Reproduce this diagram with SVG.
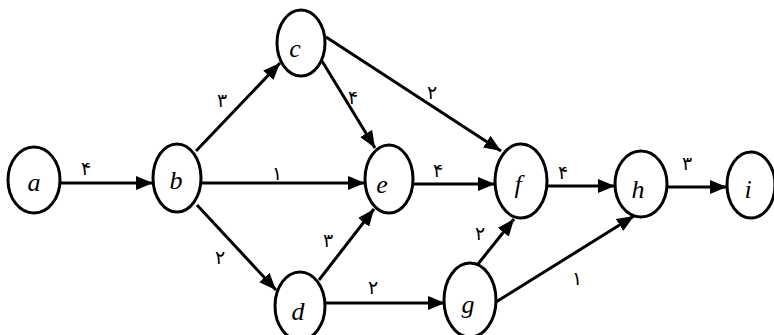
<svg xmlns="http://www.w3.org/2000/svg" width="774" height="335" viewBox="0 0 774 335">
<defs>
<marker id="arr" markerUnits="userSpaceOnUse" markerWidth="18" markerHeight="14" refX="17" refY="7" orient="auto">
<path d="M0,0 L17,7 L0,14 Z" fill="#000"/>
</marker>
<style>
.n ellipse{fill:#fff;stroke:#000;stroke-width:3}
.n text{font-family:"Liberation Serif",serif;font-style:italic;font-size:26px;text-anchor:middle;dominant-baseline:central;fill:#000}
#edges line{stroke:#000;stroke-width:3;marker-end:url(#arr)}
.w{font-family:"DejaVu Sans",sans-serif;font-size:19px;text-anchor:middle;dominant-baseline:central;fill:#000}
</style>
</defs>
<rect width="774" height="335" fill="#fff"/>
<g id="edges">
<line x1="60" y1="183" x2="153" y2="183"/>
<line x1="201" y1="183" x2="365" y2="183"/>
<line x1="413" y1="184" x2="495" y2="184"/>
<line x1="547" y1="186" x2="615" y2="186"/>
<line x1="667" y1="187" x2="727" y2="187"/>
<line x1="196" y1="151" x2="280" y2="63"/>
<line x1="322" y1="61" x2="375" y2="148"/>
<line x1="326" y1="37" x2="501" y2="151"/>
<line x1="197" y1="205" x2="276" y2="290"/>
<line x1="319" y1="280" x2="374" y2="209"/>
<line x1="325" y1="303" x2="445" y2="303"/>
<line x1="478" y1="264" x2="514" y2="219"/>
<line x1="496" y1="302" x2="634" y2="216"/>
<text class="w" x="86" y="168">۴</text>
<text class="w" x="222" y="100">۳</text>
<text class="w" x="277" y="173">۱</text>
<text class="w" x="353" y="97">۴</text>
<text class="w" x="432" y="92">۲</text>
<text class="w" x="438" y="170">۴</text>
<text class="w" x="563" y="172">۴</text>
<text class="w" x="687" y="163">۳</text>
<text class="w" x="480" y="233">۲</text>
<text class="w" x="577" y="278">۱</text>
<text class="w" x="220" y="257">۲</text>
<text class="w" x="328" y="240">۳</text>
<text class="w" x="373" y="287">۲</text>
</g>
<g id="a" class="n"><ellipse cx="34" cy="180" rx="26" ry="33"/><text x="34" y="182">a</text></g>
<g id="b" class="n"><ellipse cx="177" cy="178" rx="24" ry="34"/><text x="176" y="180">b</text></g>
<g id="c" class="n"><ellipse cx="301" cy="43" rx="24" ry="33"/><text x="295" y="48">c</text></g>
<g id="e" class="n"><ellipse cx="389" cy="179" rx="24" ry="34"/><text x="382" y="184">e</text></g>
<g id="f" class="n"><ellipse cx="521" cy="181" rx="26" ry="37"/><text x="518" y="184">f</text></g>
<g id="h" class="n"><ellipse cx="641" cy="184" rx="26" ry="33"/><text x="638" y="189">h</text></g>
<g id="i" class="n"><ellipse cx="751" cy="185" rx="24" ry="33"/><text x="748" y="189">i</text></g>
<g id="d" class="n"><ellipse cx="300" cy="306" rx="25" ry="34"/><text x="298" y="311">d</text></g>
<g id="g" class="n"><ellipse cx="470" cy="300" rx="26" ry="37"/><text x="468" y="304">g</text></g>
</svg>
